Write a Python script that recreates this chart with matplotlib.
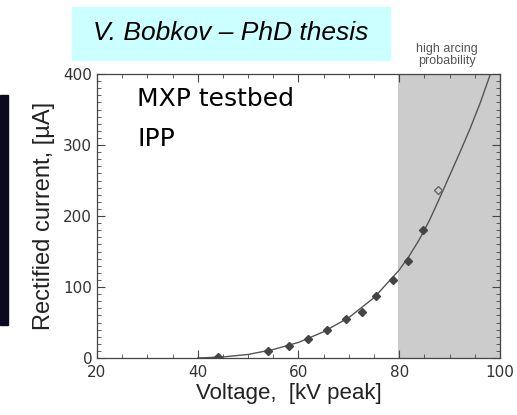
import matplotlib.pyplot as plt
from matplotlib.patches import Rectangle
from matplotlib.ticker import MultipleLocator

# measured points (kV peak, uA)
volt = [44.0, 53.9, 58.2, 61.8, 65.7, 69.4, 72.6, 75.4, 78.8, 81.7, 84.7]
curr = [1, 10, 17, 27, 40, 55, 65, 88, 110, 136, 180]
volt_open = [87.7]
curr_open = [237]

# fitted curve
fit_v = [40, 45, 50, 55, 60, 65, 70, 75, 80, 82, 84, 86, 88, 90, 92, 94, 96, 98.0]
fit_i = [0, 1.5, 5, 12, 22, 37, 57, 85, 124, 144, 167, 194, 225, 257, 289, 322, 358, 398]

arc_start = 79.7

fig = plt.figure(figsize=(5.17, 4.15), dpi=100)
ax = fig.add_axes([0.1876, 0.1373, 0.7795, 0.6843])

ax.axvspan(arc_start, 100, color="#cccccc", lw=0, zorder=0)
ax.plot(fit_v, fit_i, color="#555555", lw=1.0, zorder=2)
ax.plot(volt, curr, "D", ms=4, color="#444444", mec="#444444", zorder=3)
ax.plot(volt_open, curr_open, "D", ms=4, mfc="none", mec="#666666", zorder=3)

ax.set_xlim(20, 100)
ax.set_ylim(0, 400)
ax.xaxis.set_major_locator(MultipleLocator(20))
ax.xaxis.set_minor_locator(MultipleLocator(5))
ax.yaxis.set_major_locator(MultipleLocator(100))
ax.yaxis.set_minor_locator(MultipleLocator(10))
ax.tick_params(which="both", direction="in", top=True, right=True,
               colors="#444444", labelcolor="#333333", labelsize=11)
ax.tick_params(axis="x", pad=5)
ax.tick_params(which="major", length=6, width=0.8)
ax.tick_params(which="minor", length=3, width=0.6)
for s in ax.spines.values():
    s.set_color("#444444")
    s.set_linewidth(0.9)

ax.set_xlabel("Voltage,  [kV peak]", fontsize=16, family="Liberation Sans",
              color="#222222", labelpad=2)
ax.xaxis.label.set_x(0.475)
ax.set_ylabel("Rectified current, [\u00b5A]", fontsize=17, family="Liberation Sans",
              color="#222222", labelpad=6)

ax.text(0.10, 0.955, "MXP testbed", transform=ax.transAxes, fontsize=18,
        family="DejaVu Sans", va="top", ha="left")
ax.text(0.10, 0.815, "IPP", transform=ax.transAxes, fontsize=18,
        family="DejaVu Sans", va="top", ha="left")

# title box
fig.patches.append(Rectangle((72 / 517, 1 - 60 / 415), 318 / 517, 53 / 415,
                             transform=fig.transFigure, color="#ccffff", zorder=0))
fig.text(231 / 517, 1 - 33 / 415, "V. Bobkov \u2013 PhD thesis", fontsize=19,
         style="italic", family="Liberation Sans", ha="center", va="center")
fig.text(447 / 517, 1 - 55 / 415, "high arcing\nprobability", fontsize=9,
         family="Liberation Sans", color="#555555", ha="center", va="center",
         linespacing=1.0)

# dark strip on the left edge
fig.patches.append(Rectangle((0, 1 - 325 / 415), 8 / 517, 230 / 415,
                             transform=fig.transFigure, color="#0b0a1e", zorder=0))

fig.savefig("out.png", dpi=100)
